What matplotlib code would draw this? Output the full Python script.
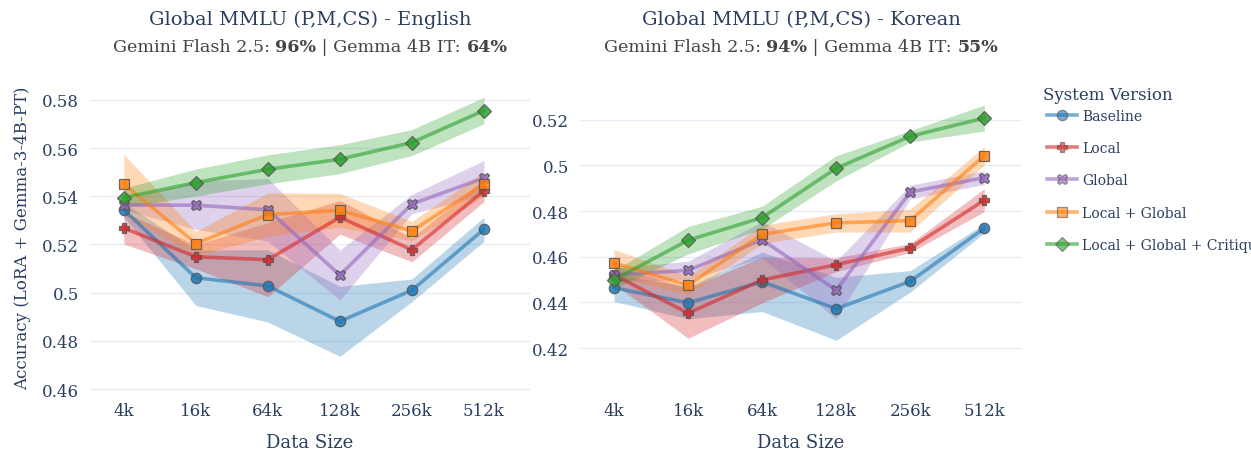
import matplotlib
matplotlib.use("Agg")
import matplotlib.pyplot as plt
from matplotlib.lines import Line2D
import numpy as np

sizes = ["4k", "16k", "64k", "128k", "256k", "512k"]
systems = ["Baseline", "Local", "Global", "Local + Global", "Local + Global + Critique"]
colors = ["#1f77b4", "#d62728", "#9467bd", "#ff7f0e", "#2ca02c"]
markers = ["o", "P", "X", "s", "D"]

# English: mean and band half-width per system
en_mean = [
    [0.5344, 0.5062, 0.5028, 0.4881, 0.5010, 0.5263],
    [0.5268, 0.5149, 0.5137, 0.5313, 0.5178, 0.5423],
    [0.5364, 0.5363, 0.5344, 0.5073, 0.5368, 0.5476],
    [0.5451, 0.5204, 0.5324, 0.5342, 0.5256, 0.5451],
    [0.5394, 0.5457, 0.5512, 0.5554, 0.5623, 0.5756],
]
en_err = [
    [0.0030, 0.0115, 0.0150, 0.0145, 0.0047, 0.0050],
    [0.0066, 0.0050, 0.0154, 0.0070, 0.0050, 0.0045],
    [0.0020, 0.0100, 0.0130, 0.0104, 0.0040, 0.0072],
    [0.0124, 0.0050, 0.0090, 0.0070, 0.0040, 0.0050],
    [0.0040, 0.0056, 0.0060, 0.0060, 0.0054, 0.0055],
]

# Korean
ko_mean = [
    [0.4464, 0.4398, 0.4490, 0.4372, 0.4492, 0.4724],
    [0.4520, 0.4353, 0.4498, 0.4565, 0.4638, 0.4847],
    [0.4520, 0.4540, 0.4674, 0.4454, 0.4883, 0.4946],
    [0.4572, 0.4475, 0.4698, 0.4748, 0.4758, 0.5042],
    [0.4499, 0.4672, 0.4771, 0.4987, 0.5127, 0.5207],
]
ko_err = [
    [0.0060, 0.0070, 0.0130, 0.0138, 0.0047, 0.0020],
    [0.0040, 0.0110, 0.0100, 0.0030, 0.0020, 0.0050],
    [0.0030, 0.0040, 0.0080, 0.0127, 0.0030, 0.0030],
    [0.0060, 0.0040, 0.0040, 0.0040, 0.0050, 0.0040],
    [0.0040, 0.0060, 0.0050, 0.0055, 0.0025, 0.0057],
]

titles = ["Global MMLU (P,M,CS) - English", "Global MMLU (P,M,CS) - Korean"]
subs = [("96%", "64%"), ("94%", "55%")]

txt = "#2a3f5f"
plt.rcParams["font.family"] = ["DejaVu Serif"]

fig = plt.figure(figsize=(12.51, 4.52), dpi=100)
W, H = 1251, 452
ax1 = fig.add_axes([90 / W, 1 - 392 / H, 440 / W, 307 / H])
ax2 = fig.add_axes([580 / W, 1 - 392 / H, 442 / W, 307 / H])

x = np.arange(len(sizes))
for ax, means, errs, ylim, xlim, yt in [
    (ax1, en_mean, en_err, (0.4592, 0.5866), (-0.47, 5.64), [0.46, 0.48, 0.5, 0.52, 0.54, 0.56, 0.58]),
    (ax2, ko_mean, ko_err, (0.4012, 0.5356), (-0.46, 5.51), [0.42, 0.44, 0.46, 0.48, 0.5, 0.52]),
]:
    for i in range(len(systems)):
        m = np.array(means[i])
        e = np.array(errs[i])
        ax.fill_between(x, m - e, m + e, color=colors[i], alpha=0.3, lw=0, zorder=2)
        ax.plot(x, m, color=colors[i], alpha=0.6, lw=2.6, zorder=3)
        ax.plot(x, m, ls="none", marker=markers[i], ms=7.5, mfc=colors[i],
                mec="#555555", mew=0.9, alpha=0.85, zorder=4)
    ax.set_ylim(*ylim)
    ax.set_xlim(*xlim)
    ax.set_yticks(yt)
    ax.set_yticklabels(["0.5" if v == 0.5 else f"{v:g}" for v in yt])
    ax.set_xticks(x)
    ax.set_xticklabels(sizes)
    ax.tick_params(length=0, labelsize=12, colors=txt, pad=8)
    ax.grid(axis="y", color="#e8ecf6", lw=1)
    ax.set_axisbelow(True)
    for s in ax.spines.values():
        s.set_visible(False)
    ax.set_xlabel("Data Size", fontsize=13, color=txt, labelpad=10)

ax1.set_ylabel("Accuracy (LoRA + Gemma-3-4B-PT)", fontsize=12, color=txt, labelpad=8)

# titles and subtitles with bold numbers
renderer = fig.canvas.get_renderer()
for ax, t, (a, b) in zip([ax1, ax2], titles, subs):
    cx = (ax.get_position().x0 + ax.get_position().x1) / 2
    fig.text(cx, 1 - 20 / H, t, ha="center", va="center", fontsize=14, color=txt)
    parts = [("Gemini Flash 2.5: ", "normal"), (a, "bold"), (" | Gemma 4B IT: ", "normal"), (b, "bold")]
    objs = [fig.text(0, 1 - 47 / H, p, fontsize=12.6, color="#444444", fontweight=w, va="center")
            for p, w in parts]
    widths = [o.get_window_extent(renderer).width / W for o in objs]
    pos = cx - sum(widths) / 2
    for o, w in zip(objs, widths):
        o.set_x(pos)
        pos += w

# legend (title placed separately to keep it close to the entries)
fig.text(1043 / W, 1 - 95 / H, "System Version", fontsize=12, color=txt, va="center")
handles = [Line2D([], [], color=colors[i], alpha=0.6, lw=2.6, marker=markers[i], ms=7.5,
                  mfc=colors[i], mec="#555555", mew=0.9) for i in range(len(systems))]
fig.legend(handles, systems, loc="upper left", bbox_to_anchor=(1041 / W, 1 - 104 / H),
           frameon=False, fontsize=10, labelcolor=txt, handlelength=2.2,
           labelspacing=1.32, borderaxespad=0, handletextpad=0.35)

fig.savefig("out.png", dpi=100)
